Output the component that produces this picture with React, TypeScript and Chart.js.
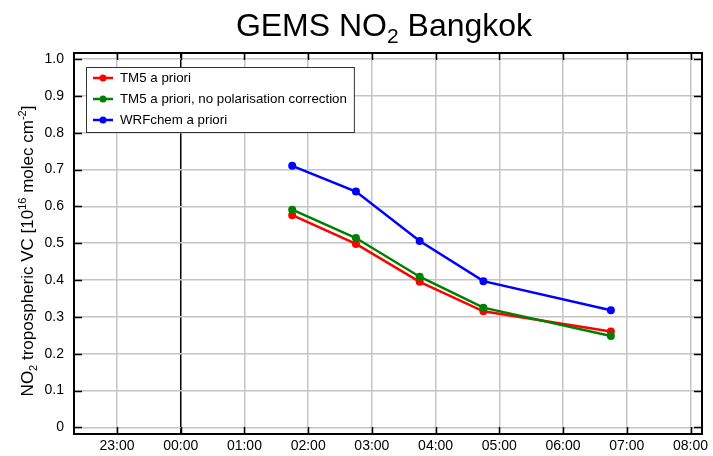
import React, { useEffect, useRef } from "react";
import { Chart, registerables } from "chart.js";

Chart.register(...registerables);

// ---- data ----
const hours = [1.75, 2.75, 3.75, 4.75, 6.75];
const tm5 = [0.576, 0.498, 0.395, 0.315, 0.26];
const tm5NoPol = [0.591, 0.514, 0.409, 0.325, 0.248];
const wrfchem = [0.71, 0.64, 0.506, 0.397, 0.318];
const seriesLabels = [
  "TM5 a priori",
  "TM5 a priori, no polarisation correction",
  "WRFchem a priori",
];
const seriesColors = ["#ff0000", "#008000", "#0000ff"];
const xTickValues = [-1, 0, 1, 2, 3, 4, 5, 6, 7, 8];
const xTickLabels = ["23:00", "00:00", "01:00", "02:00", "03:00", "04:00", "05:00", "06:00", "07:00", "08:00"];
const yTickValues = [0, 0.1, 0.2, 0.3, 0.4, 0.5, 0.6, 0.7, 0.8, 0.9, 1.0];
const yTickLabels = ["0", "0.1", "0.2", "0.3", "0.4", "0.5", "0.6", "0.7", "0.8", "0.9", "1.0"];

const FONT = "'Liberation Sans', Arial, Helvetica, sans-serif";

type Seg = { t: string; size: number; dy: number };

function drawSegs(ctx: CanvasRenderingContext2D, segs: Seg[], cx: number, cy: number) {
  let total = 0;
  for (const s of segs) {
    ctx.font = `${s.size}px ${FONT}`;
    total += ctx.measureText(s.t).width;
  }
  let x = cx - total / 2;
  ctx.textAlign = "left";
  ctx.textBaseline = "alphabetic";
  for (const s of segs) {
    ctx.font = `${s.size}px ${FONT}`;
    ctx.fillText(s.t, x, cy + s.dy);
    x += ctx.measureText(s.t).width;
  }
}

const decorPlugin = {
  id: "decor",
  afterDraw(chart: any) {
    const ctx: CanvasRenderingContext2D = chart.ctx;
    const { left, right, top, bottom } = chart.chartArea;
    const xs = chart.scales.x;
    const ys = chart.scales.y;
    ctx.save();
    // inner tick marks
    ctx.strokeStyle = "#000";
    ctx.lineWidth = 1.5;
    const tl = 8;
    ctx.beginPath();
    for (const v of xTickValues) {
      const px = Math.round(xs.getPixelForValue(v)) + 0.5;
      ctx.moveTo(px, bottom);
      ctx.lineTo(px, bottom - tl + 1);
      ctx.moveTo(px, top);
      ctx.lineTo(px, top + tl - 1);
    }
    for (const v of yTickValues) {
      const py = Math.round(ys.getPixelForValue(v)) + 0.5;
      ctx.moveTo(left, py);
      ctx.lineTo(left + tl, py);
      ctx.moveTo(right, py);
      ctx.lineTo(right - tl, py);
    }
    ctx.stroke();
    // frame
    ctx.lineWidth = 2;
    ctx.strokeRect(left, top, right - left, bottom - top);

    // legend
    const lx = 86, ly = 67;
    const rowH = 21;
    const lf = `13.3px ${FONT}`;
    ctx.font = lf;
    let maxW = 0;
    for (const l of seriesLabels) maxW = Math.max(maxW, ctx.measureText(l).width);
    const textX = lx + 34;
    const bw = textX - lx + maxW + 7;
    const bh = rowH * seriesLabels.length + 2;
    ctx.fillStyle = "#fff";
    ctx.fillRect(lx, ly, bw, bh);
    ctx.strokeStyle = "#333";
    ctx.lineWidth = 1;
    ctx.strokeRect(lx + 0.5, ly + 0.5, bw, bh);
    chart.data.datasets.forEach((ds: any, i: number) => {
      const yy = ly + 11 + i * rowH;
      ctx.strokeStyle = ds.borderColor;
      ctx.lineWidth = 2.5;
      ctx.beginPath();
      ctx.moveTo(lx + 7, yy);
      ctx.lineTo(lx + 27, yy);
      ctx.stroke();
      ctx.fillStyle = ds.borderColor;
      ctx.beginPath();
      ctx.arc(lx + 17, yy, 3.5, 0, Math.PI * 2);
      ctx.fill();
      ctx.fillStyle = "#000";
      ctx.font = lf;
      ctx.textAlign = "left";
      ctx.textBaseline = "middle";
      ctx.fillText(ds.label, textX, yy);
    });

    // title
    ctx.fillStyle = "#000";
    drawSegs(
      ctx,
      [
        { t: "GEMS NO", size: 32, dy: 0 },
        { t: "2", size: 21, dy: 7 },
        { t: " Bangkok", size: 32, dy: 0 },
      ],
      (left + right) / 2 - 4,
      36
    );

    // y axis title
    ctx.save();
    ctx.translate(33, 251);
    ctx.rotate(-Math.PI / 2);
    drawSegs(
      ctx,
      [
        { t: "NO", size: 17, dy: 0 },
        { t: "2", size: 11, dy: 4 },
        { t: " tropospheric VC [10", size: 17, dy: 0 },
        { t: "16", size: 11, dy: -7 },
        { t: " molec cm", size: 17, dy: 0 },
        { t: "-2", size: 11, dy: -7 },
        { t: "]", size: 17, dy: 0 },
      ],
      0,
      0
    );
    ctx.restore();
    ctx.restore();
  },
};

export default function App() {
  const ref = useRef<HTMLCanvasElement | null>(null);
  useEffect(() => {
    if (!ref.current) return;
    const mk = (vals: number[]) => hours.map((h, i) => ({ x: h, y: vals[i] }));
    const series = [tm5, tm5NoPol, wrfchem];
    const chart = new Chart(ref.current, {
      type: "line",
      data: {
        datasets: series.map((vals, i) => ({
          label: seriesLabels[i],
          data: mk(vals),
          borderColor: seriesColors[i],
          backgroundColor: seriesColors[i],
          borderWidth: 2.5,
          pointRadius: 4,
          pointBorderWidth: 0,
          pointBackgroundColor: seriesColors[i],
          tension: 0,
          order: 3 - i,
        })),
      },
      options: {
        animation: false,
        responsive: false,
        devicePixelRatio: 1,
        layout: { padding: { top: 53, right: 11, left: 0, bottom: 0 } },
        plugins: {
          legend: { display: false },
          title: { display: false },
          tooltip: { enabled: false },
        },
        scales: {
          x: {
            type: "linear",
            min: -1.674,
            max: 8.18,
            afterBuildTicks: (scale: any) => {
              scale.ticks = xTickValues.map((v) => ({ value: v }));
            },
            afterFit: (scale: any) => {
              scale.height = 22;
            },
            ticks: {
              autoSkip: false,
              maxRotation: 0,
              padding: 4,
              color: "#000",
              font: { family: FONT, size: 14 },
              callback: (v: any) => {
                const i = xTickValues.indexOf(Number(v));
                return i >= 0 ? xTickLabels[i] : "";
              },
            },
            grid: {
              drawTicks: false,
              color: (c: any) => (c.tick && c.tick.value === 0 ? "#000" : "#c4c4c4"),
              lineWidth: 1.5,
            },
            border: { display: false },
          },
          y: {
            type: "linear",
            min: -0.018,
            max: 1.0163,
            afterBuildTicks: (scale: any) => {
              scale.ticks = yTickValues.map((v) => ({ value: v }));
            },
            afterFit: (scale: any) => {
              scale.width = 74;
            },
            ticks: {
              autoSkip: false,
              padding: 10,
              color: "#000",
              font: { family: FONT, size: 14 },
              callback: (v: any) => {
                const i = yTickValues.findIndex((t) => Math.abs(t - Number(v)) < 1e-6);
                return i >= 0 ? yTickLabels[i] : "";
              },
            },
            grid: {
              drawTicks: false,
              color: "#c4c4c4",
              lineWidth: 1.5,
            },
            border: { display: false },
          },
        },
      },
      plugins: [decorPlugin],
    } as any);
    return () => chart.destroy();
  }, []);
  return (
    <div style={{ position: "absolute", left: 0, top: 0, width: 713, height: 456, background: "#fff" }}>
      <canvas ref={ref} width={713} height={456} style={{ display: "block" }} />
    </div>
  );
}
